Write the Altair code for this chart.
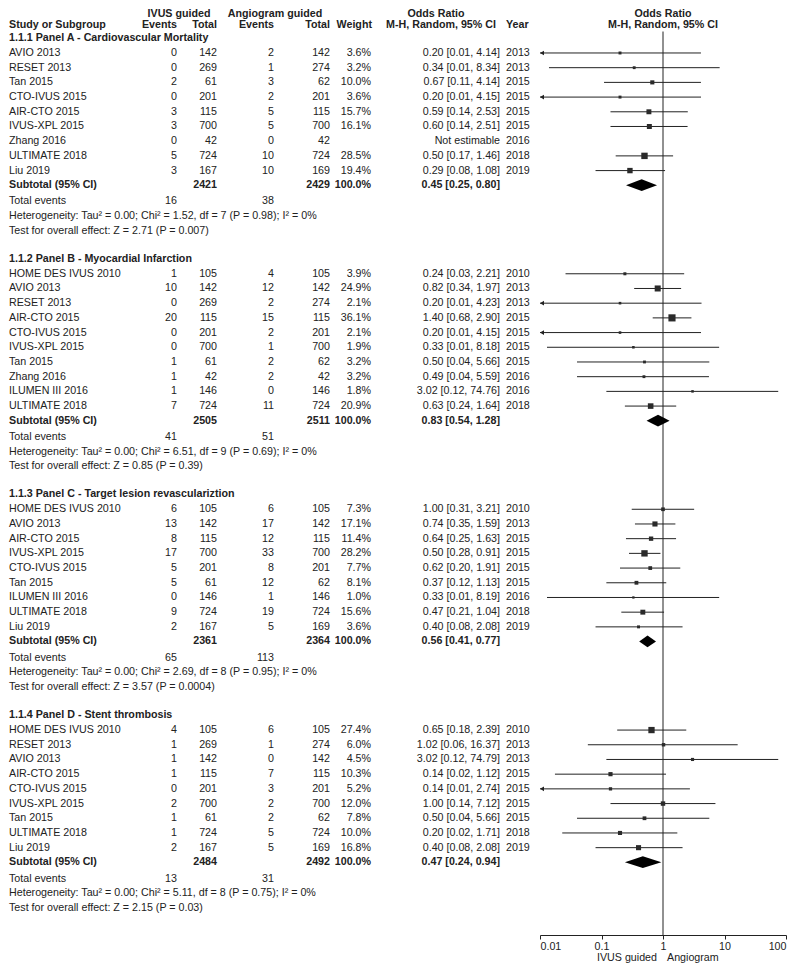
import altair as alt
import pandas as pd

FONT = "Liberation Sans"
FS = 10.7
INK = "#222222"

# ---------------- data ----------------
A_title = "1.1.1 Panel A - Cardiovascular Mortality"
A_names = ["AVIO 2013", "RESET 2013", "Tan 2015", "CTO-IVUS 2015", "AIR-CTO 2015",
           "IVUS-XPL 2015", "Zhang 2016", "ULTIMATE 2018", "Liu 2019"]
A_ev1 = [0, 0, 2, 0, 3, 3, 0, 5, 3]
A_n1 = [142, 269, 61, 201, 115, 700, 42, 724, 167]
A_ev2 = [2, 1, 3, 2, 5, 5, 0, 10, 10]
A_n2 = [142, 274, 62, 201, 115, 700, 42, 724, 169]
A_w = [3.6, 3.2, 10.0, 3.6, 15.7, 16.1, None, 28.5, 19.4]
A_or = [0.20, 0.34, 0.67, 0.20, 0.59, 0.60, None, 0.50, 0.29]
A_lo = [0.0096, 0.014, 0.11, 0.0096, 0.14, 0.14, None, 0.17, 0.08]
A_hi = [4.14, 8.34, 4.14, 4.15, 2.53, 2.51, None, 1.46, 1.08]
A_year = [2013, 2013, 2015, 2015, 2015, 2015, 2016, 2018, 2019]
A_sub = [2421, 2429, 0.45, 0.25, 0.80]
A_tot = [16, 38]
A_het = "Heterogeneity: Tau² = 0.00; Chi² = 1.52, df = 7 (P = 0.98); I² = 0%"
A_test = "Test for overall effect: Z = 2.71 (P = 0.007)"

B_title = "1.1.2 Panel B - Myocardial Infarction"
B_names = ["HOME DES IVUS 2010", "AVIO 2013", "RESET 2013", "AIR-CTO 2015", "CTO-IVUS 2015",
           "IVUS-XPL 2015", "Tan 2015", "Zhang 2016", "ILUMEN III 2016", "ULTIMATE 2018"]
B_ev1 = [1, 10, 0, 20, 0, 0, 1, 1, 1, 7]
B_n1 = [105, 142, 269, 115, 201, 700, 61, 42, 146, 724]
B_ev2 = [4, 12, 2, 15, 2, 1, 2, 2, 0, 11]
B_n2 = [105, 142, 274, 115, 201, 700, 62, 42, 146, 724]
B_w = [3.9, 24.9, 2.1, 36.1, 2.1, 1.9, 3.2, 3.2, 1.8, 20.9]
B_or = [0.24, 0.82, 0.20, 1.40, 0.20, 0.33, 0.50, 0.49, 3.02, 0.63]
B_lo = [0.026, 0.34, 0.0095, 0.68, 0.0096, 0.013, 0.04, 0.04, 0.12, 0.24]
B_hi = [2.21, 1.97, 4.23, 2.90, 4.15, 8.18, 5.66, 5.59, 74.76, 1.64]
B_year = [2010, 2013, 2013, 2015, 2015, 2015, 2015, 2016, 2016, 2018]
B_sub = [2505, 2511, 0.83, 0.54, 1.28]
B_tot = [41, 51]
B_het = "Heterogeneity: Tau² = 0.00; Chi² = 6.51, df = 9 (P = 0.69); I² = 0%"
B_test = "Test for overall effect: Z = 0.85 (P = 0.39)"

C_title = "1.1.3 Panel C - Target lesion revasculariztion"
C_names = ["HOME DES IVUS 2010", "AVIO 2013", "AIR-CTO 2015", "IVUS-XPL 2015", "CTO-IVUS 2015",
           "Tan 2015", "ILUMEN III 2016", "ULTIMATE 2018", "Liu 2019"]
C_ev1 = [6, 13, 8, 17, 5, 5, 0, 9, 2]
C_n1 = [105, 142, 115, 700, 201, 61, 146, 724, 167]
C_ev2 = [6, 17, 12, 33, 8, 12, 1, 19, 5]
C_n2 = [105, 142, 115, 700, 201, 62, 146, 724, 169]
C_w = [7.3, 17.1, 11.4, 28.2, 7.7, 8.1, 1.0, 15.6, 3.6]
C_or = [1.00, 0.74, 0.64, 0.50, 0.62, 0.37, 0.33, 0.47, 0.40]
C_lo = [0.31, 0.35, 0.25, 0.28, 0.20, 0.12, 0.013, 0.21, 0.08]
C_hi = [3.21, 1.59, 1.63, 0.91, 1.91, 1.13, 8.19, 1.04, 2.08]
C_year = [2010, 2013, 2015, 2015, 2015, 2015, 2016, 2018, 2019]
C_sub = [2361, 2364, 0.56, 0.41, 0.77]
C_tot = [65, 113]
C_het = "Heterogeneity: Tau² = 0.00; Chi² = 2.69, df = 8 (P = 0.95); I² = 0%"
C_test = "Test for overall effect: Z = 3.57 (P = 0.0004)"

D_title = "1.1.4 Panel D - Stent thrombosis"
D_names = ["HOME DES IVUS 2010", "RESET 2013", "AVIO 2013", "AIR-CTO 2015", "CTO-IVUS 2015",
           "IVUS-XPL 2015", "Tan 2015", "ULTIMATE 2018", "Liu 2019"]
D_ev1 = [4, 1, 1, 1, 0, 2, 1, 1, 2]
D_n1 = [105, 269, 142, 115, 201, 700, 61, 724, 167]
D_ev2 = [6, 1, 0, 7, 3, 2, 2, 5, 5]
D_n2 = [105, 274, 142, 115, 201, 700, 62, 724, 169]
D_w = [27.4, 6.0, 4.5, 10.3, 5.2, 12.0, 7.8, 10.0, 16.8]
D_or = [0.65, 1.02, 3.02, 0.14, 0.14, 1.00, 0.50, 0.20, 0.40]
D_lo = [0.18, 0.06, 0.12, 0.0175, 0.0071, 0.14, 0.04, 0.023, 0.08]
D_hi = [2.39, 16.37, 74.79, 1.12, 2.74, 7.12, 5.66, 1.71, 2.08]
D_year = [2010, 2013, 2013, 2015, 2015, 2015, 2015, 2018, 2019]
D_sub = [2484, 2492, 0.47, 0.24, 0.94]
D_tot = [13, 31]
D_het = "Heterogeneity: Tau² = 0.00; Chi² = 5.11, df = 8 (P = 0.75); I² = 0%"
D_test = "Test for overall effect: Z = 2.15 (P = 0.03)"

TICKS = [0.01, 0.1, 1, 10, 100]

panels = [
    (A_title, A_names, A_ev1, A_n1, A_ev2, A_n2, A_w, A_or, A_lo, A_hi, A_year, A_sub, A_tot, A_het, A_test),
    (B_title, B_names, B_ev1, B_n1, B_ev2, B_n2, B_w, B_or, B_lo, B_hi, B_year, B_sub, B_tot, B_het, B_test),
    (C_title, C_names, C_ev1, C_n1, C_ev2, C_n2, C_w, C_or, C_lo, C_hi, C_year, C_sub, C_tot, C_het, C_test),
    (D_title, D_names, D_ev1, D_n1, D_ev2, D_n2, D_w, D_or, D_lo, D_hi, D_year, D_sub, D_tot, D_het, D_test),
]

# ---------------- layout (row units) ----------------
PITCH = 14.7
H = 927
W = 780
HEAD1_Y = 0.42
HEAD2_Y = 1.15
PANEL1_Y = 2.04
HEAD_TO_FIRST = 1.02
SUB_STEP = 0.99
TE_STEP = 1.11
PANEL_STEP = 1.9
VLINE_TOP = 1.6

txt_rows, forest, arrows, diamonds = [], [], [], []


def add(col, y, text, bold=False):
    txt_rows.append(dict(col=col, y=y, text=str(text), bold=bold))


add("h_ivus", HEAD1_Y, "IVUS guided", True)
add("h_angio", HEAD1_Y, "Angiogram guided", True)
add("h_or", HEAD1_Y, "Odds Ratio", True)
add("h_or2", HEAD1_Y, "Odds Ratio", True)
add("name", HEAD2_Y, "Study or Subgroup", True)
add("ev1", HEAD2_Y, "Events", True)
add("n1", HEAD2_Y, "Total", True)
add("ev2", HEAD2_Y, "Events", True)
add("n2", HEAD2_Y, "Total", True)
add("h_w", HEAD2_Y, "Weight", True)
add("h_ci", HEAD2_Y, "M-H, Random, 95% CI", True)
add("year", HEAD2_Y, "Year", True)
add("h_or2", HEAD2_Y, "M-H, Random, 95% CI", True)

y = PANEL1_Y
for pi, (title, names, ev1, n1, ev2, n2, w, orr, lo, hi, yr, sub, tot, het, test) in enumerate(panels):
    add("name", y, title, True)
    y += HEAD_TO_FIRST
    for i in range(len(names)):
        add("name", y, names[i])
        add("ev1", y, ev1[i])
        add("n1", y, n1[i])
        add("ev2", y, ev2[i])
        add("n2", y, n2[i])
        add("year", y, yr[i])
        if orr[i] is None:
            add("ci", y, "Not estimable")
        else:
            add("w", y, f"{w[i]:.1f}%")
            add("ci", y, f"{orr[i]:.2f} [{lo[i]:.2f}, {hi[i]:.2f}]")
            forest.append(dict(y=y, orv=orr[i], lo=lo[i], hi=hi[i], w=w[i]))
            if lo[i] < 0.01:
                arrows.append(dict(y=y, x=0.01))
        if i < len(names) - 1:
            y += 1.0
    y += SUB_STEP
    add("name", y, "Subtotal (95% CI)", True)
    add("n1", y, sub[0], True)
    add("n2", y, sub[1], True)
    add("w", y, "100.0%", True)
    add("ci", y, f"{sub[2]:.2f} [{sub[3]:.2f}, {sub[4]:.2f}]", True)
    hh = 0.4
    diamonds += [dict(p=pi, x=sub[3], yt=y, yb=y),
                 dict(p=pi, x=sub[2], yt=y - hh, yb=y + hh),
                 dict(p=pi, x=sub[4], yt=y, yb=y)]
    y += TE_STEP
    add("name", y, "Total events")
    add("ev1", y, tot[0])
    add("ev2", y, tot[1])
    y += 1.0
    add("name", y, het)
    y += 1.0
    add("name", y, test)
    y += PANEL_STEP

txt = pd.DataFrame(txt_rows)

COLS = {
    "name": (1, "left"),
    "ev1": (169, "right"),
    "n1": (209, "right"),
    "ev2": (266, "right"),
    "n2": (322, "right"),
    "w": (363, "right"),
    "h_w": (364, "right"),
    "ci": (492, "right"),
    "h_ci": (433, "center"),
    "year": (498, "left"),
    "h_ivus": (171, "center"),
    "h_angio": (267, "center"),
    "h_or": (428, "center"),
    "h_or2": (655, "center"),
}

YS = alt.Scale(domain=[0, H / PITCH], range=[0, H], nice=False, zero=False)
XS = alt.Scale(type="log", domain=[0.01, 100], range=[532, 778], clamp=True, nice=False)
AX = alt.Axis(values=TICKS, format="~g", labelFlush=True, tickSize=4, grid=False, title=None,
              domainColor="#222222", tickColor="#222222", labelColor=INK, labelFont=FONT,
              labelFontSize=FS, labelPadding=2)

layers = []
for col, (xp, al) in COLS.items():
    for b in (False, True):
        sub_df = txt[(txt.col == col) & (txt.bold == b)][["y", "text"]]
        if sub_df.empty:
            continue
        layers.append(
            alt.Chart(sub_df).mark_text(align=al, baseline="middle", font=FONT, fontSize=FS,
                                        fontWeight="bold" if b else "normal", color=INK)
            .encode(x=alt.value(xp), y=alt.Y("y:Q", scale=YS, axis=None), text="text:N")
        )

fdf = pd.DataFrame(forest)
adf = pd.DataFrame(arrows)
ddf = pd.DataFrame(diamonds)
vdf = pd.DataFrame({"x": [1.0], "y1": [VLINE_TOP], "y2": [H / PITCH]})

vline = alt.Chart(vdf).mark_rule(color="#222222", strokeWidth=1).encode(
    x=alt.X("x:Q", scale=XS, axis=AX), y=alt.Y("y1:Q", scale=YS, axis=None), y2="y2:Q")
ci = alt.Chart(fdf).mark_rule(color="#222222", strokeWidth=1).encode(
    x=alt.X("lo:Q", scale=XS, axis=AX), x2="hi:Q", y=alt.Y("y:Q", scale=YS, axis=None))
sq = alt.Chart(fdf).mark_square(filled=True, color="#2a2a2a", opacity=1).encode(
    x=alt.X("orv:Q", scale=XS, axis=AX), y=alt.Y("y:Q", scale=YS, axis=None),
    size=alt.Size("w:Q", scale=alt.Scale(domain=[0, 40], range=[4, 56]), legend=None))
arr = alt.Chart(adf).mark_point(shape="triangle-left", filled=True, size=22, color="#222222",
                                opacity=1, xOffset=2).encode(
    x=alt.X("x:Q", scale=XS, axis=AX), y=alt.Y("y:Q", scale=YS, axis=None))
dia = alt.Chart(ddf).mark_area(color="#000000", orient="vertical", opacity=1).encode(
    x=alt.X("x:Q", scale=XS, axis=AX), y=alt.Y("yt:Q", scale=YS, axis=None), y2="yb:Q",
    detail="p:N")

bottom = pd.DataFrame({"t": ["IVUS guided"]})
bottom2 = pd.DataFrame({"t": ["Angiogram"]})
lab1 = alt.Chart(bottom).mark_text(align="right", baseline="middle", font=FONT, fontSize=FS,
                                   color=INK).encode(x=alt.value(649), y=alt.value(950), text="t:N")
lab2 = alt.Chart(bottom2).mark_text(align="left", baseline="middle", font=FONT, fontSize=FS,
                                    color=INK).encode(x=alt.value(659), y=alt.value(950), text="t:N")

chart = alt.layer(vline, ci, dia, sq, arr, *layers, lab1, lab2).properties(
    width=W, height=H,
    padding={"left": 0, "top": 0, "right": 0, "bottom": 29},
    autosize=alt.AutoSizeParams(type="none"),
).configure_view(stroke=None)

chart.save("out.html", embed_options={"renderer": "svg", "actions": False})
